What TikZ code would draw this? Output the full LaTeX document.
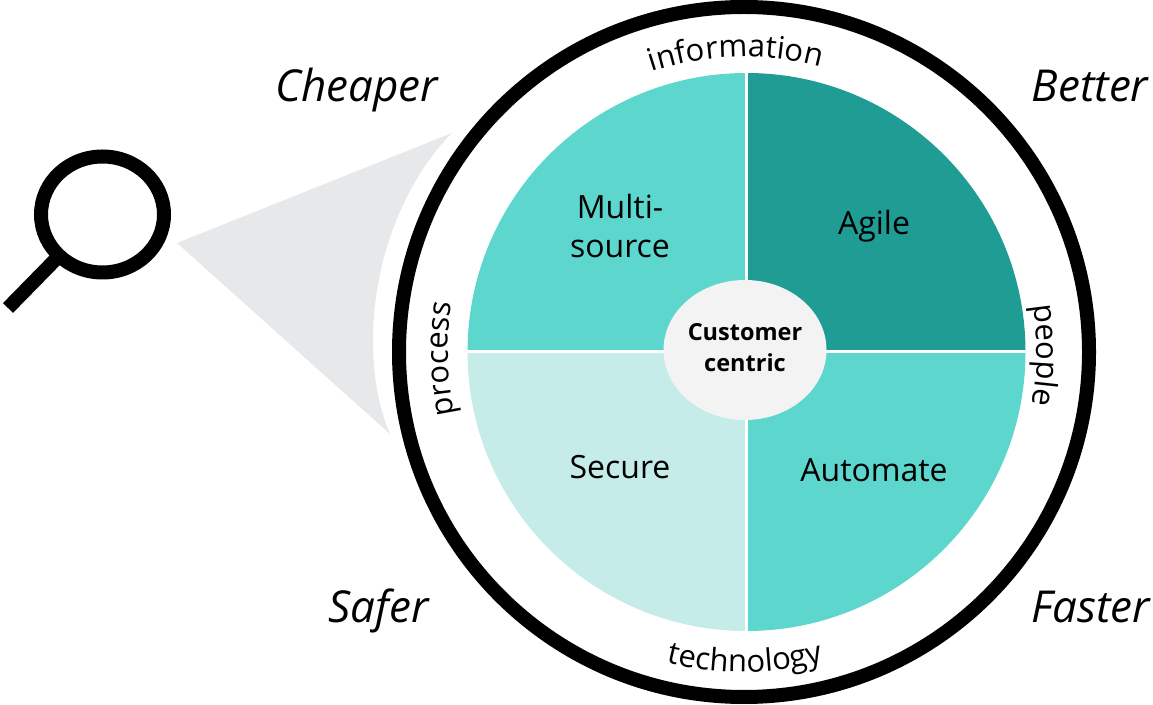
\documentclass[tikz,border=0pt]{standalone}
\usepackage{fontspec}
\setmainfont{Open Sans}
\usetikzlibrary{decorations.text,shapes.geometric}
\definecolor{tealdark}{HTML}{1F9C94}
\definecolor{tealmid}{HTML}{5DD6CE}
\definecolor{teallight}{HTML}{C5ECE8}
\definecolor{conegrey}{HTML}{E7E8EA}
\definecolor{hubgrey}{HTML}{F3F3F3}
\tikzset{
  benefit/.style={anchor=base,inner sep=0pt,font=\fontsize{44}{44}\selectfont\itshape},
  quadlabel/.style={anchor=base,inner sep=0pt,font=\fontsize{32}{32}\selectfont},
  hublabel/.style={anchor=base,inner sep=0pt,font=\fontsize{23.5}{23.5}\selectfont\bfseries},
  hubshape/.style={ellipse,fill=hubgrey,minimum width=163pt,minimum height=140pt,inner sep=0pt},
  curved/.style={decorate,decoration={text along path,text align=center,text={|\fontsize{31}{31}\selectfont|#1}}}
}
\begin{document}
\begin{tikzpicture}[x=1pt,y=1pt,line join=miter]
\useasboundingbox (0,0) rectangle (1153,704);
\coordinate (c) at (746.5,352);
\coordinate (r) at (744,352);
% cone
\fill[conegrey] (177,461) -- (452,571) .. controls (405,524) and (373,444) .. (373,364)
  .. controls (373,329) and (378,299) .. (390,270) -- cycle;
% ring
\draw[line width=14pt,black] (r) circle[radius=345];
% quadrants
\fill[tealdark] (c) -- ++(0,279) arc[start angle=90,end angle=0,radius=279] -- cycle;
\fill[tealmid] (c) -- ++(279,0) arc[start angle=0,end angle=-90,radius=279] -- cycle;
\fill[teallight] (c) -- ++(0,-279) arc[start angle=-90,end angle=-180,radius=279] -- cycle;
\fill[tealmid] (c) -- ++(-279,0) arc[start angle=180,end angle=90,radius=279] -- cycle;
\draw[white,line width=3pt] (467,352) -- (1026,352);
\draw[white,line width=3pt] (746.5,631) -- (746.5,73);
% hub
\node[hubshape] (hub) at (745,354) {};
% magnifier
\draw[line width=14pt,black] (102.5,489.5) ellipse[x radius=61.5,y radius=58];
\draw[line width=14pt,black] (56,445) -- (8,396);
% labels
\node[benefit] (cheaper) at (356.5,602) {Cheaper};
\node[benefit] (better) at (1090,602) {Better};
\node[benefit] (safer) at (378.5,82) {Safer};
\node[benefit] (faster) at (1090.5,82) {Faster};
\node[quadlabel] (multi) at (620,485) {Multi-};
\node[quadlabel] (source) at (620,446) {source};
\node[quadlabel] (agile) at (874,469) {Agile};
\node[quadlabel] (secure) at (620,225) {Secure};
\node[quadlabel] (automate) at (874,222) {Automate};
\node[hublabel] (customer) at (745,363) {Customer};
\node[hublabel] (centric) at (745,332) {centric};
% curved labels
\path[curved=information] ([shift={(113.6:295)}]r) arc[start angle=113.6,end angle=69.6,radius=295];
\path[curved=technology] ([shift={(-118:320)}]r) arc[start angle=-118,end angle=-61.6,radius=320];
\path[curved=process] ([shift={(-160.2:296)}]r) arc[start angle=-160.2,end angle=-197.2,radius=296];
\path[curved=people] ([shift={(19.4:293)}]r) arc[start angle=19.4,end angle=-20.6,radius=293];
\end{tikzpicture}
\end{document}
